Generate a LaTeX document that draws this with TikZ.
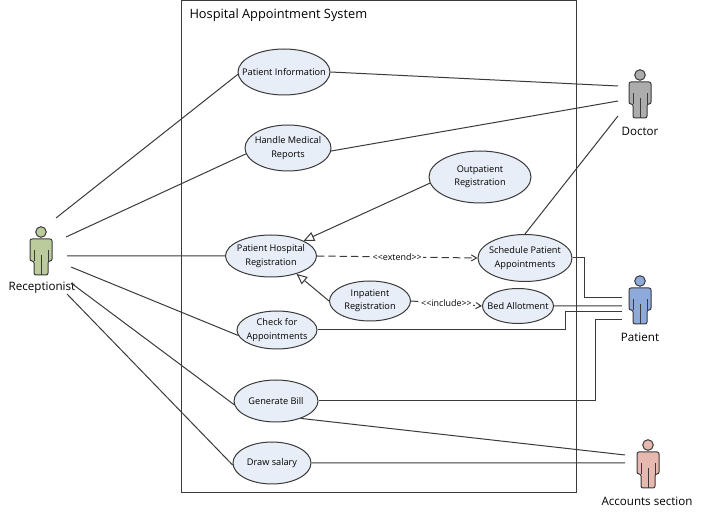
\documentclass[tikz,border=0pt]{standalone}
\usepackage{fontspec}
\setmainfont{Open Sans}
\usetikzlibrary{arrows,arrows.meta,shapes.geometric}

\definecolor{linegray}{HTML}{3A3A3A}
\definecolor{casefill}{HTML}{E8EEF7}
\definecolor{recepfill}{HTML}{BCCB9C}
\definecolor{doctorfill}{HTML}{ACACAC}
\definecolor{patientfill}{HTML}{8EAADB}
\definecolor{accountfill}{HTML}{E6B8B0}

\tikzset{
	use case/.style n args={2}{ellipse,draw=linegray,fill=casefill,line width=0.75pt,inner sep=-10pt,
		minimum width=#1*0.75pt,minimum height=#2*0.75pt,align=center,font=\fontsize{6.9}{10}\selectfont},
	actor label/.style={font=\fontsize{8.7}{10}\selectfont,inner sep=0pt},
	stereo label/.style={fill=white,inner sep=1pt,font=\fontsize{6.7}{8}\selectfont},
	pics/actor/.style={code={
		\draw[draw=linegray,fill=#1,line width=0.75pt] (0,0) circle (5.3);
		\draw[draw=linegray,fill=#1,line width=0.75pt,rounded corners=1.5pt]
			(-11,29) -- (-11,7) -- (11,7) -- (11,29) -- (7,29) -- (7,43) -- (-7,43) -- (-7,29) -- cycle;
		\draw[draw=linegray,line width=0.75pt] (-7,29) -- (-7,18) (7,29) -- (7,18) (0,23) -- (0,43);
	}}
}

\begin{document}
\begin{tikzpicture}[x=0.75pt,y=-0.75pt,line width=0.75pt,draw=linegray,>=angle 60];

	\useasboundingbox (0,0) rectangle (701,516);

	\draw (181,1) rectangle (576,493);
	\node[anchor=west,inner sep=0pt,font=\fontsize{9.6}{11}\selectfont] (title) at (189,15) {Hospital Appointment System};

	\node[use case={92}{46}] (pinfo) at (284,72) {Patient Information};
	\node[use case={86}{46}] (medrep) at (288,148) {Handle Medical\\Reports};
	\node[use case={102}{52}] (outpat) at (480,177) {Outpatient\\Registration};
	\node[use case={91}{42}] (hospreg) at (271,256) {Patient Hospital\\Registration};
	\node[use case={94}{47}] (sched) at (525,258) {Schedule Patient\\Appointments};
	\node[use case={81}{40}] (inpat) at (370,301) {Inpatient\\Registration};
	\node[use case={71}{35}] (bed) at (518,306) {Bed Allotment};
	\node[use case={80}{38}] (check) at (277,330) {Check for\\Appointments};
	\node[use case={84}{42}] (bill) at (276,401) {Generate Bill};
	\node[use case={78}{42}] (salary) at (272,463) {Draw salary};

	\pic at (41,232) {actor=recepfill};
	\pic at (640,75) {actor=doctorfill};
	\pic at (640,281) {actor=patientfill};
	\pic at (648,445) {actor=accountfill};

	\node[actor label] (receptionist) at (42,288) {Receptionist};
	\node[actor label] (doctor) at (640,131) {Doctor};
	\node[actor label] (patient) at (640,337) {Patient};
	\node[actor label] (accounts) at (647,501) {Accounts section};

	\coordinate (r1) at (56,218);
	\coordinate (r2) at (66,237);
	\coordinate (r3) at (67,256);
	\coordinate (r4) at (71,267);
	\coordinate (r5) at (71,283);
	\coordinate (r6) at (67,294);
	\coordinate (d1) at (618,86);
	\coordinate (d2) at (618,101);
	\coordinate (d3) at (618,116);
	\coordinate (p1) at (622,298);
	\coordinate (p2) at (622,306);
	\coordinate (p3) at (622,312);
	\coordinate (p4) at (622,320);
	\coordinate (a1) at (625,455);
	\coordinate (a2) at (625,463);

	\path[draw]
	(r1) -- (pinfo.183)
	(r2) -- (medrep.188)
	(r3) -- (hospreg.west)
	(r4) -- (check.188)
	(r5) -- (bill.185)
	(r6) -- (salary.183)
	(pinfo.east) -- (d1)
	(medrep.356) -- (d2)
	(sched.north) -- (d3)
	(bill.-35) -- (a1)
	(salary.east) -- (a2)
	(bed.east) -- (p2);

	\draw (sched.east) -- (584,258) -- (584,298) -- (p1);
	\draw (check.east) -- (565,330) -- (565,312) -- (p3);
	\draw (bill.east) -- (595,401) -- (595,320) -- (p4);

	\path[-{Triangle[open,length=8pt,width=7pt]}]
	(outpat.187) edge (hospreg.25)
	(inpat.west) edge (hospreg.-35);

	\path[->,dash pattern=on 5.5pt off 3pt,every node/.style={stereo label}]
	(hospreg.east) edge node {<{}<extend>{}>} (sched.west)
	(inpat.east) edge node {<{}<include>{}>} (bed.west);

\end{tikzpicture}
\end{document}
